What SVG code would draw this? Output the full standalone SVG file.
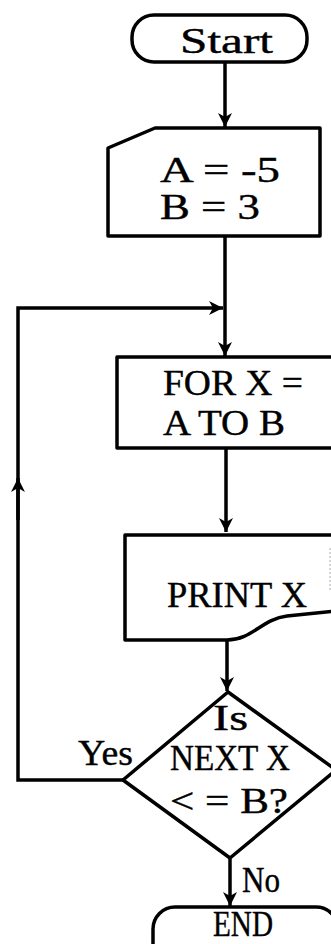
<svg xmlns="http://www.w3.org/2000/svg" width="331" height="944" viewBox="0 0 331 944">
<style>
.s{fill:none;stroke:#000;stroke-width:3.5;stroke-linejoin:round;stroke-linecap:round}
.c{fill:none;stroke:#000;stroke-width:3.5}
.t{font-family:"Liberation Serif","DejaVu Serif",serif;font-size:35px;fill:#000;stroke:#000;stroke-width:0.4}
</style>
<defs>
<marker id="ah" markerUnits="userSpaceOnUse" markerWidth="16" markerHeight="16" refX="14" refY="7" orient="auto">
<path d="M0,0 L14,7 L0,14 L4,7 Z" fill="#000"/>
</marker>
</defs>
<rect width="331" height="944" fill="#fff"/>
<g id="connectors">
<line class="c" x1="225" y1="63" x2="225" y2="127" marker-end="url(#ah)"/>
<line class="c" x1="225" y1="237" x2="225" y2="356" marker-end="url(#ah)"/>
<path class="c" d="M123,780 L18,780 L18,308 L223,308" marker-end="url(#ah)"/>
<line class="c" x1="18" y1="520" x2="18" y2="478" marker-end="url(#ah)"/>
<line class="c" x1="226" y1="449" x2="226" y2="532" marker-end="url(#ah)"/>
<line class="c" x1="227" y1="639" x2="227" y2="691" marker-end="url(#ah)"/>
<line class="c" x1="230" y1="859" x2="230" y2="906" marker-end="url(#ah)"/>
<text class="t" x="78" y="765" textLength="55" lengthAdjust="spacingAndGlyphs">Yes</text>
<text class="t" x="242" y="892" textLength="38" lengthAdjust="spacingAndGlyphs">No</text>
</g>
<g id="start">
<rect class="s" x="132" y="15" width="175" height="47" rx="22"/>
<text class="t" x="180" y="53" font-size="33" textLength="93" lengthAdjust="spacingAndGlyphs">Start</text>
</g>
<g id="input">
<path class="s" d="M155,128 L320,128 L320,236 L108,236 L108,148 Z"/>
<text class="t" x="160" y="182" font-size="32" textLength="120" lengthAdjust="spacingAndGlyphs">A = -5</text>
<text class="t" x="160" y="219" font-size="32" textLength="100" lengthAdjust="spacingAndGlyphs">B = 3</text>
</g>
<g id="for">
<path class="s" d="M345,357 L117,357 L117,448 L345,448"/>
<text class="t" x="163" y="395" textLength="140" lengthAdjust="spacingAndGlyphs">FOR X =</text>
<text class="t" x="163" y="435" textLength="122" lengthAdjust="spacingAndGlyphs">A TO B</text>
</g>
<g id="print">
<path class="s" d="M345,535 L125,535 L125,640 L227,640 C252,640 262,619 287,616 L335,611"/>
<line x1="330" y1="548" x2="330" y2="592" stroke="#aaa" stroke-width="1" stroke-dasharray="2,2"/>
<text class="t" x="167" y="607" textLength="140" lengthAdjust="spacingAndGlyphs">PRINT X</text>
</g>
<g id="decision">
<path class="s" d="M228,692 L123,780 L230,858 L336,770 Z"/>
<text class="t" x="213" y="730" textLength="35" lengthAdjust="spacingAndGlyphs">Is</text>
<text class="t" x="170" y="770" textLength="120" lengthAdjust="spacingAndGlyphs">NEXT X</text>
<text class="t" x="170" y="813" textLength="118" lengthAdjust="spacingAndGlyphs">&lt; = B?</text>
</g>
<g id="end">
<rect class="s" x="153" y="907" width="185" height="60" rx="22"/>
<text class="t" x="213" y="936" font-size="31" textLength="60" lengthAdjust="spacingAndGlyphs">END</text>
</g>
</svg>
